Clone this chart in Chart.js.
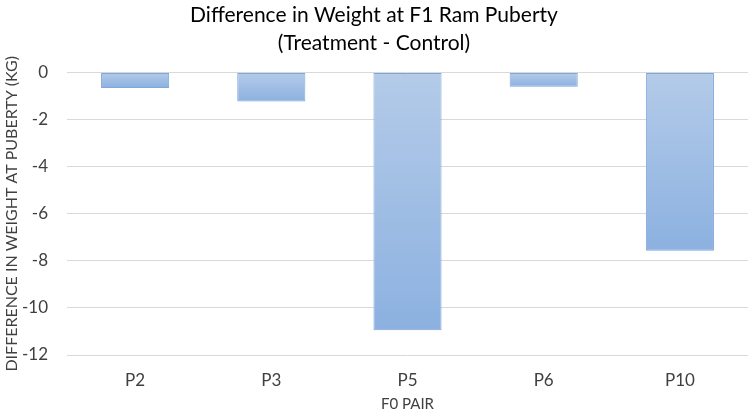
<!DOCTYPE html>
<html>
<head>
<meta charset="utf-8">
<script src="https://cdn.jsdelivr.net/npm/chart.js@4"></script>
<style>
  html, body { margin: 0; padding: 0; background: #fff; }
  #wrap { width: 751px; height: 413px; }
</style>
</head>
<body>
<div id="wrap"><canvas id="chart" width="751" height="413"></canvas></div>
<script>
// chart data
const pairs = ['P2', 'P3', 'P5', 'P6', 'P10'];
const weightDiff = [-0.65, -1.23, -10.95, -0.6, -7.57];
const yTicks = [0, -2, -4, -6, -8, -10, -12];

const FONT = 'Lato, "Open Sans", sans-serif';

// per-bar vertical gradient, light at zero line, darker at the bar end
const barFill = (c) => {
  const chart = c.chart;
  const y = chart.scales.y;
  if (!y || c.dataIndex === undefined) return '#a3c0e6';
  const v = c.dataset.data[c.dataIndex];
  const y0 = y.getPixelForValue(0);
  const y1 = y.getPixelForValue(v);
  if (!isFinite(y0) || !isFinite(y1) || y0 === y1) return '#a3c0e6';
  const g = chart.ctx.createLinearGradient(0, y0, 0, y1);
  g.addColorStop(0, '#b4cbe9');
  g.addColorStop(1, '#8cb1e0');
  return g;
};

new Chart(document.getElementById('chart'), {
  type: 'bar',
  data: {
    labels: pairs,
    datasets: [{
      label: 'Difference',
      data: weightDiff,
      backgroundColor: barFill,
      borderColor: '#7ea6da',
      borderWidth: 1,
      borderSkipped: false,
      barPercentage: 0.5,
      categoryPercentage: 1
    }]
  },
  options: {
    responsive: false,
    animation: false,
    layout: { padding: { left: 0, right: 3, top: 0, bottom: 0 } },
    plugins: {
      legend: { display: false },
      tooltip: { enabled: false },
      title: {
        display: true,
        text: ['Difference in Weight at F1 Ram Puberty', '(Treatment - Control)'],
        color: '#000',
        font: { family: FONT, size: 21, weight: 'normal', lineHeight: 1.3 },
        padding: { top: 2, bottom: 16 }
      }
    },
    scales: {
      x: {
        grid: { display: false },
        border: { display: false },
        ticks: { color: '#404040', font: { family: FONT, size: 17 }, padding: 7 },
        title: {
          display: true,
          text: 'F0 PAIR',
          color: '#404040',
          font: { family: FONT, size: 15 },
          padding: { top: 0, bottom: 0 }
        },
        afterFit: (s) => { s.height = 58; }
      },
      y: {
        min: -12,
        max: 0,
        afterBuildTicks: (axis) => { axis.ticks = yTicks.map(v => ({ value: v })); },
        grid: { color: '#d9d9d9', lineWidth: 1, drawTicks: false },
        border: { display: false },
        ticks: { color: '#404040', font: { family: FONT, size: 17 }, padding: 19 },
        title: {
          display: true,
          text: 'DIFFERENCE IN WEIGHT AT PUBERTY (KG)',
          color: '#404040',
          font: { family: FONT, size: 16 },
          padding: { top: 2, bottom: 0 }
        },
        afterFit: (s) => { s.width = 67; }
      }
    }
  }
});
</script>
</body>
</html>
